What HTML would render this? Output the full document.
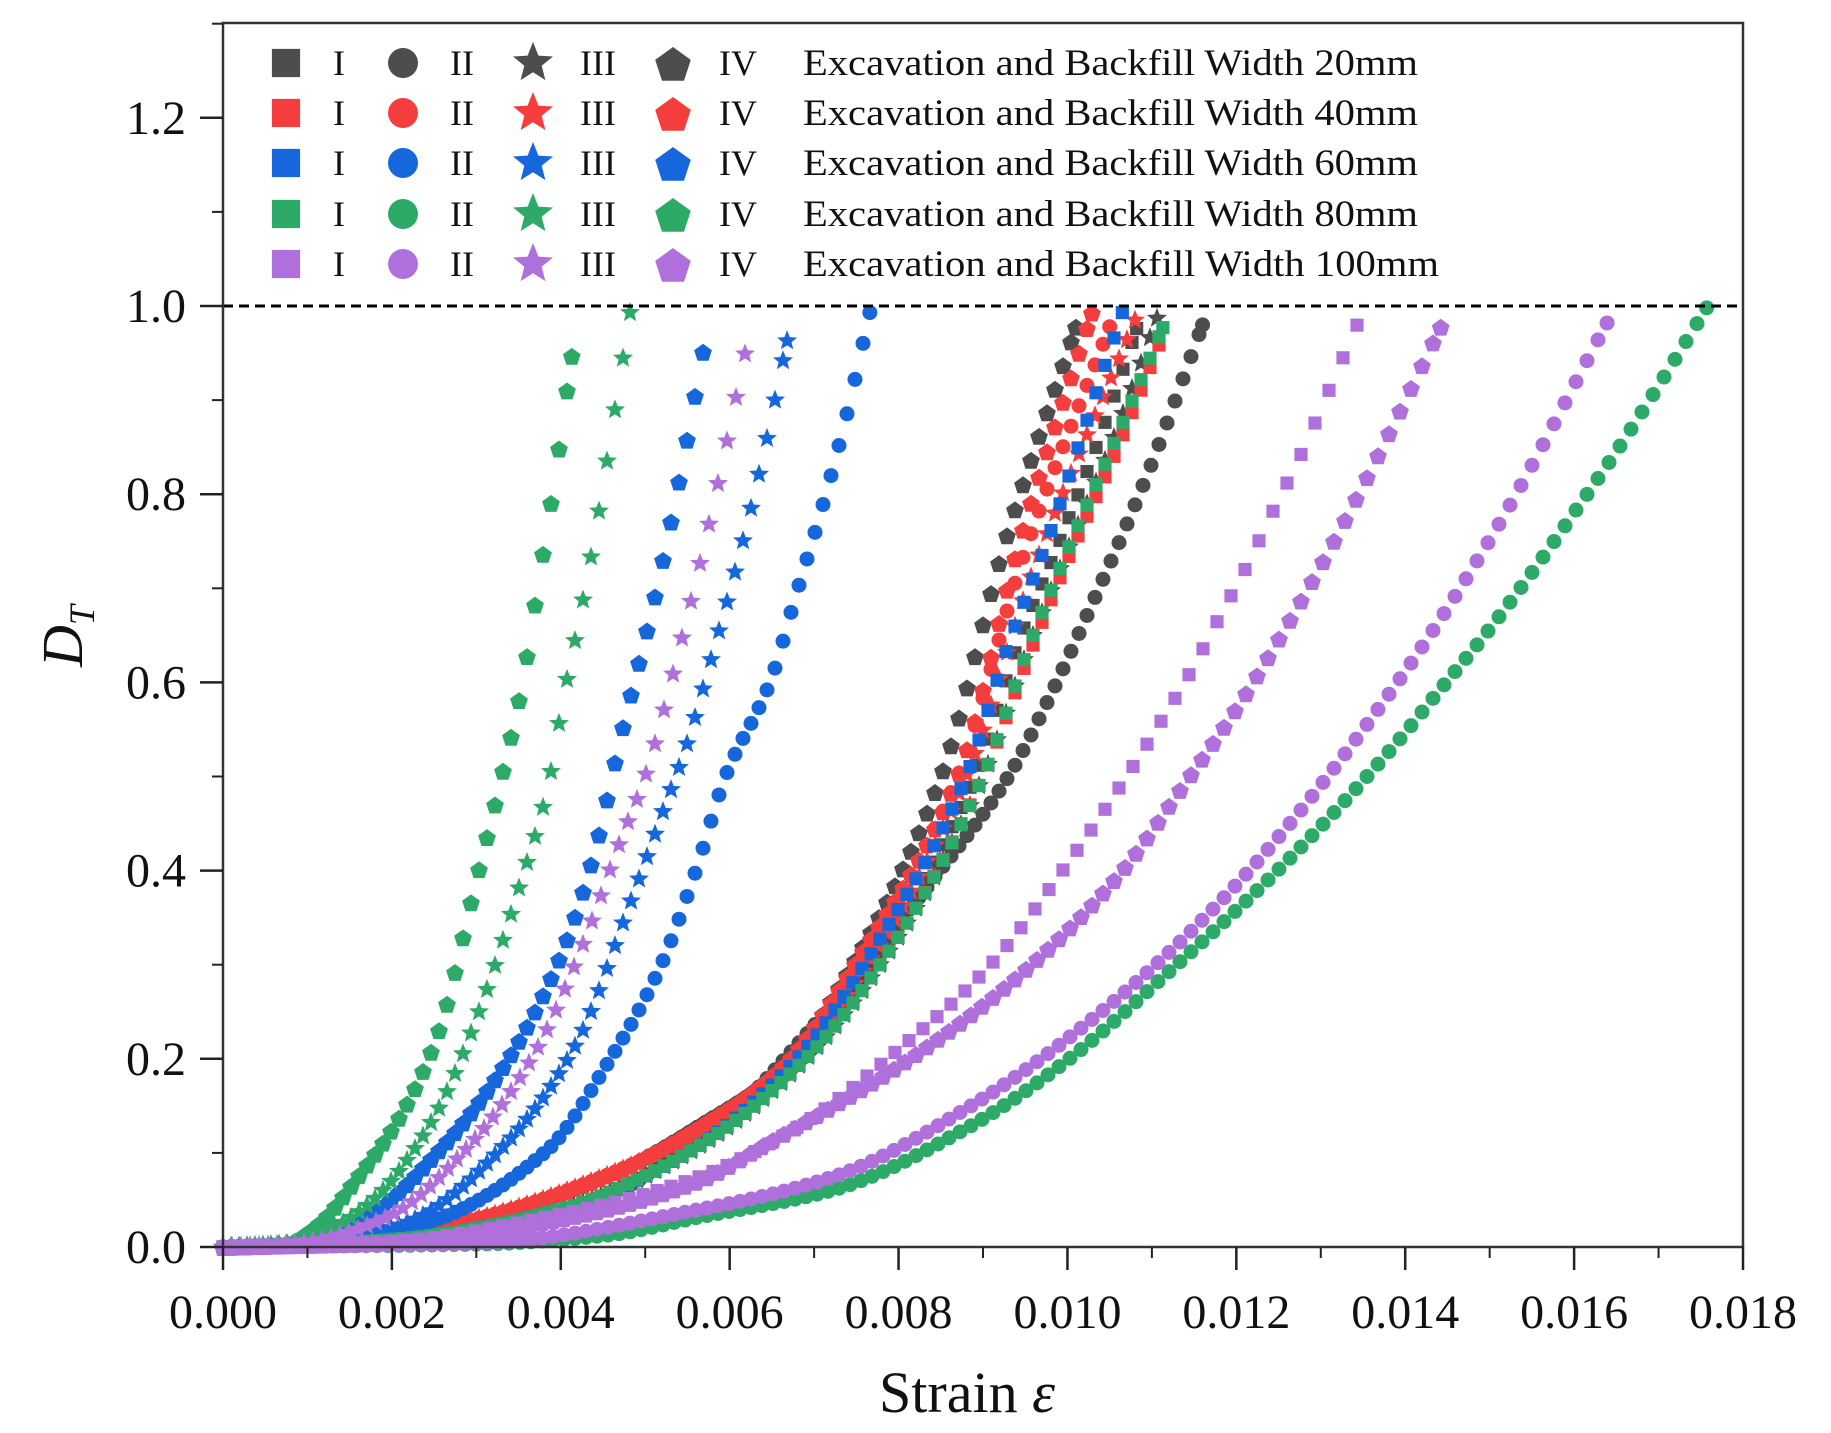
<!DOCTYPE html>
<html><head><meta charset="utf-8"><style>
html,body{margin:0;padding:0;background:#fff;}
svg{display:block;}
text{font-family:"Liberation Serif","Times New Roman",serif;fill:#111;}
</style></head><body>
<svg id="chart" width="1831" height="1433" viewBox="0 0 1831 1433" xmlns="http://www.w3.org/2000/svg">
<g id="marks"></g>
<g id="axes"></g>
<g id="legend"></g>
</svg>
<script>
// ---- data (strain, D_T) ----
const widths = ["20mm","40mm","60mm","80mm","100mm"];
const types = ["I","II","III","IV"];
const xTicks = [0,0.002,0.004,0.006,0.008,0.010,0.012,0.014,0.016,0.018];
const xTickLabels = ["0.000","0.002","0.004","0.006","0.008","0.010","0.012","0.014","0.016","0.018"];
const yTicks = [0,0.2,0.4,0.6,0.8,1.0,1.2];
const yTickLabels = ["0.0","0.2","0.4","0.6","0.8","1.0","1.2"];

// 20mm
const w20_I_x  = [0,0.002,0.004,0.0055,0.0068,0.0079,0.0089,0.00944,0.00989,0.01036,0.01082];
const w20_I_y  = [0,0.008,0.040,0.100,0.200,0.330,0.500,0.647,0.746,0.855,0.976];
const w20_II_x = [0,0.002,0.004,0.00565,0.00724,0.0084,0.0093,0.00976,0.0103,0.01096,0.0116];
const w20_II_y = [0,0.006,0.035,0.114,0.260,0.390,0.500,0.579,0.685,0.824,0.980];
const w20_III_x= [0,0.002,0.004,0.0055,0.0069,0.0080,0.0090,0.00955,0.0100,0.01055,0.01106];
const w20_III_y= [0,0.008,0.040,0.100,0.200,0.330,0.500,0.640,0.740,0.860,0.987];
const w20_IV_x = [0,0.0015,0.003,0.00465,0.00565,0.00661,0.00752,0.0085,0.00928,0.0101];
const w20_IV_y = [0,0.005,0.030,0.080,0.130,0.190,0.310,0.500,0.755,0.978];
// 40mm
const w40_I_x  = [0,0.002,0.004,0.0055,0.0069,0.0080,0.0090,0.00955,0.0100,0.01055,0.0111];
const w40_I_y  = [0,0.008,0.040,0.100,0.200,0.330,0.500,0.630,0.730,0.840,0.962];
const w40_II_x = [0,0.0015,0.003,0.00465,0.00565,0.00665,0.0076,0.0087,0.0095,0.0105];
const w40_II_y = [0,0.005,0.030,0.080,0.125,0.190,0.310,0.500,0.740,0.978];
const w40_III_x= [0,0.0015,0.003,0.00465,0.0057,0.0067,0.0077,0.0088,0.0096,0.0108];
const w40_III_y= [0,0.005,0.030,0.080,0.125,0.190,0.310,0.500,0.720,0.985];
const w40_IV_x = [0,0.0015,0.003,0.00465,0.00565,0.00661,0.00755,0.0087,0.00945,0.01029];
const w40_IV_y = [0,0.005,0.030,0.080,0.128,0.190,0.310,0.500,0.755,0.993];
// 60mm
const w60_I_x  = [0,0.002,0.004,0.0055,0.0068,0.0078,0.0088,0.0093,0.0098,0.0102,0.01065];
const w60_I_y  = [0,0.008,0.040,0.100,0.200,0.330,0.500,0.640,0.760,0.870,0.993];
const w60_II_x = [0,0.001,0.00238,0.00384,0.00456,0.00516,0.0056,0.00595,0.00649,0.00677,0.00708,0.00738,0.00766];
const w60_II_y = [0,0.003,0.025,0.103,0.196,0.294,0.400,0.500,0.603,0.688,0.781,0.882,0.993];
const w60_III_x= [0,0.001,0.0016,0.00226,0.00335,0.00419,0.0048,0.0052,0.00551,0.0058,0.0061,0.0064,0.00668];
const w60_III_y= [0,0.004,0.012,0.029,0.110,0.217,0.360,0.460,0.539,0.631,0.730,0.842,0.963];
const w60_IV_x = [0,0.0008,0.0012,0.00166,0.00256,0.00335,0.0040,0.0044,0.00472,0.00512,0.00541,0.0057];
const w60_IV_y = [0,0.003,0.012,0.029,0.103,0.196,0.310,0.420,0.546,0.693,0.818,0.959];
// 80mm
const w80_I_x  = [0,0.002,0.004,0.0055,0.0069,0.0080,0.0090,0.00955,0.0100,0.01058,0.01113];
const w80_I_y  = [0,0.008,0.040,0.100,0.200,0.330,0.500,0.640,0.740,0.860,0.977];
const w80_II_x = [0,0.003,0.0045,0.00565,0.00724,0.00884,0.00995,0.01122,0.0126,0.0139,0.01441,0.01494,0.01547,0.01599,0.01652,0.01704,0.01757];
const w80_II_y = [0,0.003,0.012,0.032,0.061,0.128,0.195,0.294,0.410,0.536,0.592,0.650,0.713,0.779,0.848,0.921,0.998];
const w80_III_x= [0,0.0009,0.0013,0.00178,0.0025,0.00304,0.0035,0.00385,0.00403,0.00423,0.00443,0.00462,0.00482];
const w80_III_y= [0,0.005,0.020,0.050,0.138,0.252,0.380,0.490,0.583,0.672,0.770,0.877,0.993];
const w80_IV_x = [0,0.0008,0.001,0.0012,0.00154,0.00214,0.00256,0.0030,0.0033,0.00354,0.00373,0.00393,0.00413];
const w80_IV_y = [0,0.005,0.015,0.030,0.068,0.146,0.231,0.390,0.500,0.597,0.703,0.818,0.947];
// 100mm
const w100_I_x  = [0,0.002,0.004,0.00565,0.00685,0.00804,0.00907,0.00999,0.0108,0.01113,0.01147,0.01178,0.01212,0.01244,0.01278,0.01311,0.01344];
const w100_I_y  = [0,0.006,0.035,0.075,0.130,0.213,0.298,0.406,0.514,0.562,0.613,0.666,0.723,0.783,0.845,0.913,0.982];
const w100_II_x = [0,0.003,0.00565,0.00724,0.00884,0.01043,0.01202,0.0139,0.01509,0.01639];
const w100_II_y = [0,0.004,0.040,0.075,0.149,0.252,0.387,0.599,0.765,0.982];
const w100_III_x= [0,0.0009,0.00195,0.00287,0.00371,0.0043,0.0047,0.0050,0.00541,0.0058,0.0062];
const w100_III_y= [0,0.004,0.032,0.103,0.209,0.330,0.430,0.500,0.638,0.786,0.957];
const w100_IV_x = [0,0.002,0.004,0.00565,0.00644,0.00804,0.00931,0.0106,0.01139,0.01204,0.01258,0.0131,0.01362,0.01442];
const w100_IV_y = [0,0.005,0.030,0.071,0.110,0.195,0.280,0.395,0.493,0.578,0.658,0.741,0.831,0.978];

const colors = ["#4d4d4d","#f43d3d","#1767dc","#2eaa68","#b070dc"];
const seriesX = [[w20_I_x,w20_II_x,w20_III_x,w20_IV_x],[w40_I_x,w40_II_x,w40_III_x,w40_IV_x],[w60_I_x,w60_II_x,w60_III_x,w60_IV_x],[w80_I_x,w80_II_x,w80_III_x,w80_IV_x],[w100_I_x,w100_II_x,w100_III_x,w100_IV_x]];
const seriesY = [[w20_I_y,w20_II_y,w20_III_y,w20_IV_y],[w40_I_y,w40_II_y,w40_III_y,w40_IV_y],[w60_I_y,w60_II_y,w60_III_y,w60_IV_y],[w80_I_y,w80_II_y,w80_III_y,w80_IV_y],[w100_I_y,w100_II_y,w100_III_y,w100_IV_y]];
const stepPx = [[9,8,9,8],[9,8,8,8],[9,8,8,8],[9,11,8,8],[14,11,9,11]];

// ---- geometry ----
const L=223,R=1743,T=23,B=1247;
const xMax=0.018;
const sx=v=>L+(v/xMax)*(R-L);
const sy=v=>B-v*941;
const NS="http://www.w3.org/2000/svg";
function mk(tag,attrs,parent){const e=document.createElementNS(NS,tag);for(const k in attrs)e.setAttribute(k,attrs[k]);parent.appendChild(e);return e;}

// monotone cubic (Fritsch-Carlson) evaluator over the read points
function monotone(xs,ys){
  const n=xs.length,d=[],m=new Array(n);
  for(let i=0;i<n-1;i++)d.push((ys[i+1]-ys[i])/(xs[i+1]-xs[i]));
  m[0]=d[0];m[n-1]=d[n-2];
  for(let i=1;i<n-1;i++){if(d[i-1]*d[i]<=0)m[i]=0;else{const h0=xs[i]-xs[i-1],h1=xs[i+1]-xs[i];m[i]=3*(h0+h1)/((2*h1+h0)/d[i-1]+(h1+2*h0)/d[i]);}}
  return function(x){
    let j=0;while(j<n-2&&xs[j+1]<x)j++;
    const h=xs[j+1]-xs[j],t=Math.min(1,Math.max(0,(x-xs[j])/h));
    const t2=t*t,t3=t2*t;
    return (2*t3-3*t2+1)*ys[j]+(t3-2*t2+t)*h*m[j]+(-2*t3+3*t2)*ys[j+1]+(t3-t2)*h*m[j+1];
  };
}

function shapePath(type,cx,cy,s){
  if(type===0){const h=s*0.47;return `M${cx-h},${cy-h}H${cx+h}V${cy+h}H${cx-h}Z`;}
  if(type===2){let d="";for(let i=0;i<10;i++){const r=i%2?s*0.27:s*0.62;const a=-Math.PI/2+i*Math.PI/5;d+=(i?"L":"M")+(cx+r*Math.cos(a)).toFixed(1)+","+(cy+r*Math.sin(a)).toFixed(1);}return d+"Z";}
  if(type===3){let d="";const r=s*0.55;for(let i=0;i<5;i++){const a=-Math.PI/2+i*2*Math.PI/5;d+=(i?"L":"M")+(cx+r*Math.cos(a)).toFixed(1)+","+(cy+0.08*s+r*Math.sin(a)).toFixed(1);}return d+"Z";}
  return null;
}
function marker(parent,type,cx,cy,s,color){
  if(type===1)return mk("ellipse",{cx:cx,cy:cy,rx:s*0.5,ry:s*0.5,fill:color},parent);
  return mk("path",{d:shapePath(type,cx,cy,s),fill:color},parent);
}

const marks=document.getElementById("marks");
const sizes=[14,15,17,17];
for(let w=0;w<5;w++){
  for(let t=0;t<4;t++){
    const xs=seriesX[w][t], ys=seriesY[w][t];
    const f=monotone(xs,ys);
    const g=mk("g",{},marks);
    
    
    const step=stepPx[w][t];
    const x0=sx(xs[0]), x1=sx(xs[xs.length-1]);
    const pts=[];
    for(let px=x0;px<=x1+0.01;px+=step){pts.push(px);}
    if(x1-pts[pts.length-1]>step*0.4)pts.push(x1);
    for(const px of pts){
      const v=(px-L)/(R-L)*xMax;
      const py=sy(Math.max(0,f(v)));
      const m=marker(g,t,px,py,sizes[t],colors[w]);
      
      
    }
  }
}

// ---- axes ----
const ax=document.getElementById("axes");
const ref=mk("line",{x1:L,x2:R,y1:sy(1.0),y2:sy(1.0),stroke:"#000","stroke-width":3,"stroke-dasharray":"10 6"},ax);

const frame=mk("rect",{x:L,y:T,width:R-L,height:B-T,fill:"none",stroke:"#333","stroke-width":2.5},ax);

for(let i=0;i<xTicks.length;i++){
  const x=sx(xTicks[i]);
  const tk=mk("line",{x1:x,x2:x,y1:B,y2:B+23,stroke:"#222","stroke-width":2.5},ax);
  
  if(i<xTicks.length-1){const xm=sx(xTicks[i]+0.001);const mt=mk("line",{x1:xm,x2:xm,y1:B,y2:B+11,stroke:"#222","stroke-width":2},ax);}
  const lb=mk("text",{x:x,y:1328,"font-size":48,"text-anchor":"middle"},ax);lb.textContent=xTickLabels[i];
  
}
for(let i=0;i<yTicks.length;i++){
  const y=sy(yTicks[i]);
  const tk=mk("line",{x1:L-23,x2:L,y1:y,y2:y,stroke:"#222","stroke-width":2.5},ax);
  
  const ym=sy(yTicks[i]+0.1);
  if(ym>T){const mt=mk("line",{x1:L-11,x2:L,y1:ym,y2:ym,stroke:"#222","stroke-width":2},ax);}
  const lb=mk("text",{x:186,y:y+16,"font-size":48,"text-anchor":"end"},ax);lb.textContent=yTickLabels[i];
  
}
const xt=mk("text",{x:967,y:1412,"font-size":58,"text-anchor":"middle"},ax);

xt.innerHTML='Strain <tspan font-style="italic">ε</tspan>';
const yt=mk("text",{x:0,y:0,"font-size":58,"text-anchor":"middle","font-style":"italic",transform:"translate(82,636) rotate(-90)"},ax);

yt.innerHTML='D<tspan font-size="36" dy="12">T</tspan>';

// ---- legend ----
const lg=document.getElementById("legend");
const rowY=[63,113,163,214,264];
const symX=[286,403,533,673], labX=[339,462,598,738];
const legLen=[615,615,615,615,636];
for(let w=0;w<5;w++){
  const row=mk("g",{},lg);
  
  
  for(let t=0;t<4;t++){
    const m=marker(row,t,symX[t],rowY[w],t===1?30:(t===0?30:34),colors[w]);
    
    const tx=mk("text",{x:labX[t],y:rowY[w]+12,"font-size":36,"text-anchor":"middle"},row);
    tx.textContent=types[t];
    
  }
  const tx=mk("text",{x:803,y:rowY[w]+12,"font-size":37,textLength:legLen[w],lengthAdjust:"spacingAndGlyphs"},row);
  tx.textContent="Excavation and Backfill Width "+widths[w];
  
}
</script>
</body></html>
